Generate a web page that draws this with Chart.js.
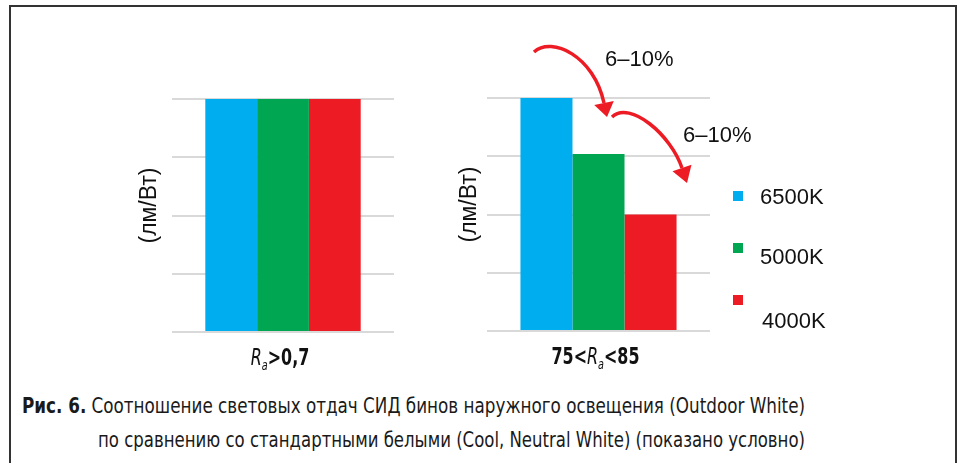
<!DOCTYPE html>
<html>
<head>
<meta charset="utf-8">
<script src="https://cdn.jsdelivr.net/npm/chart.js@4.4.1/dist/chart.umd.min.js"></script>
<style>
  html, body { margin: 0; padding: 0; background: #fff; width: 961px; height: 463px; overflow: hidden; }
  #frame { position: absolute; left: 9px; top: 5px; width: 944px; height: 480px; border: 2px solid #333; border-bottom: none; }
  canvas { position: absolute; }
  #c1 { left: 120px; top: 30px; }
  #c2 { left: 440px; top: 30px; }
  .cap { position: absolute; white-space: nowrap; line-height: 1; color: #1a1a1a; transform-origin: 0 0;
         font-family: 'DejaVu Sans Condensed', 'Liberation Sans', sans-serif; font-size: 21px; }
  .cap b { font-weight: bold; }
</style>
</head>
<body>
<div id="frame"></div>
<canvas id="c1" width="290" height="350"></canvas>
<canvas id="c2" width="420" height="350"></canvas>
<div class="cap" id="cap1" style="left:22px;top:396px"></div>
<div class="cap" id="cap2" style="left:98px;top:430px"></div>

<script>
// Series (colour temperatures) shown in both panels
const seriesNames = ['6500K', '5000K', '4000K'];
const seriesColors = ['#00AEEF', '#00A651', '#ED1C24'];

// Panel categories; "R_a" is rendered as italic R with subscript a
const panelCategories = ['R_a>0,7', '75<R_a<85'];

// Relative luminous efficacy per series, one array per panel
const panel1Values = [100, 100, 100];
const panel2Values = [100, 76, 50];

// Value axis: gridlines only, no tick labels
const yTickValues = [0, 25, 50, 75, 100];
const axisTitle = '(лм/Вт)';

// Step-down annotations between neighbouring bins
const stepLabels = ['6–10%', '6–10%'];

// Caption
const captionLead = 'Рис. 6.';
const captionLines = [
  'Соотношение световых отдач СИД бинов наружного освещения (Outdoor White)',
  'по сравнению со стандартными белыми (Cool, Neutral White) (показано условно)'
];

const LABEL_FONT = "'Liberation Sans', Arial, sans-serif";
const NARROW_FONT = "'DejaVu Sans Condensed', 'Liberation Sans', sans-serif";

function drawCategoryLabel(ctx, text, cx, cy) {
  const segs = [];
  const parts = text.split('R_a');
  parts.forEach((p, i) => {
    if (p) segs.push({ t: p, font: 'bold 23px ' + NARROW_FONT, dy: 0 });
    if (i < parts.length - 1) {
      segs.push({ t: 'R', font: 'italic 23px ' + NARROW_FONT, dy: 0 });
      segs.push({ t: 'a', font: 'italic 14px ' + NARROW_FONT, dy: 5 });
    }
  });
  let total = 0;
  segs.forEach(s => { ctx.font = s.font; s.w = ctx.measureText(s.t).width; total += s.w; });
  // condensed look: squeeze horizontally around the label centre
  ctx.translate(cx, cy + 8);
  ctx.scale(0.77, 1);
  let x = -total / 2;
  ctx.fillStyle = '#111';
  ctx.textBaseline = 'alphabetic';
  ctx.textAlign = 'left';
  segs.forEach(s => { ctx.font = s.font; ctx.fillText(s.t, x, s.dy); x += s.w; });
}

function drawArrow(ctx, p0, c1, c2, p3, tip) {
  ctx.beginPath();
  ctx.moveTo(p0[0], p0[1]);
  ctx.bezierCurveTo(c1[0], c1[1], c2[0], c2[1], p3[0], p3[1]);
  ctx.stroke();
  const dx = tip[0] - p3[0], dy = tip[1] - p3[1];
  const len = Math.hypot(dx, dy), ux = dx / len, uy = dy / len, hw = 10;
  ctx.beginPath();
  ctx.moveTo(tip[0], tip[1]);
  ctx.lineTo(p3[0] - uy * hw, p3[1] + ux * hw);
  ctx.lineTo(p3[0] + uy * hw, p3[1] - ux * hw);
  ctx.closePath();
  ctx.fill();
}

// Axis title and mixed-style category label
function panelDecor(titleOffset) {
  return {
    id: 'panelDecor',
    afterDraw(chart) {
      const ctx = chart.ctx, ca = chart.chartArea;
      ctx.save();
      ctx.fillStyle = '#111';
      ctx.font = '23px ' + LABEL_FONT;
      ctx.textAlign = 'center';
      ctx.textBaseline = 'middle';
      ctx.translate(ca.left - titleOffset, (ca.top + ca.bottom) / 2 - 10);
      ctx.rotate(-Math.PI / 2);
      ctx.fillText(axisTitle, 0, 0);
      ctx.restore();

      ctx.save();
      const xs = chart.scales.x;
      drawCategoryLabel(ctx, chart.data.labels[0], xs.getPixelForValue(0) - 3, ca.bottom + 25);
      ctx.restore();
    }
  };
}

// Step arrows and the legend to the right of the second panel
const stepDecor = {
  id: 'stepDecor',
  afterDraw(chart) {
    const ctx = chart.ctx, ca = chart.chartArea;
    const L = ca.left, T = ca.top;
    ctx.save();
    ctx.strokeStyle = '#ED1C24';
    ctx.fillStyle = '#ED1C24';
    ctx.lineWidth = 3.5;
    drawArrow(ctx, [L + 47, T - 46], [L + 65, T - 62], [L + 107, T - 42], [L + 117, T + 5], [L + 120, T + 19]);
    drawArrow(ctx, [L + 125, T + 19], [L + 143, T + 2], [L + 184, T + 37], [L + 195, T + 70], [L + 200, T + 85]);

    ctx.fillStyle = '#111';
    ctx.font = '22px ' + LABEL_FONT;
    ctx.textAlign = 'left';
    ctx.textBaseline = 'middle';
    ctx.fillText(stepLabels[0], L + 118, T - 38);
    ctx.fillText(stepLabels[1], L + 196, T + 38);

    const textDrop = [0, 8, 20];
    const textShift = [0, 0, 2];
    chart.data.datasets.forEach((ds, i) => {
      const bx = ca.right + 23, by = T + 93 + i * 52;
      ctx.fillStyle = ds.backgroundColor;
      ctx.fillRect(bx, by, 10, 10);
      ctx.fillStyle = '#111';
      ctx.fillText(ds.label, ca.right + 50 + textShift[i], by + 7 + textDrop[i]);
    });
    ctx.restore();
  }
};

function makePanel(canvasId, category, values, yWidth, xHeight, padding, plugins) {
  return new Chart(document.getElementById(canvasId), {
    type: 'bar',
    data: {
      labels: [category],
      datasets: seriesNames.map((name, i) => ({
        label: name,
        data: [values[i]],
        backgroundColor: seriesColors[i],
        borderWidth: 0,
        categoryPercentage: 0.7,
        barPercentage: 1.0
      }))
    },
    options: {
      responsive: false,
      animation: false,
      devicePixelRatio: 1,
      layout: { padding },
      plugins: { legend: { display: false }, tooltip: { enabled: false } },
      scales: {
        x: {
          grid: { display: false },
          border: { display: false },
          ticks: { display: false },
          afterFit(scale) { scale.height = xHeight; }
        },
        y: {
          min: 0, max: 100,
          afterBuildTicks(scale) { scale.ticks = yTickValues.map(v => ({ value: v })); },
          grid: { color: '#d9d9d9', lineWidth: 2, drawTicks: false },
          border: { display: false },
          ticks: { display: false },
          afterFit(scale) { scale.width = yWidth; }
        }
      }
    },
    plugins
  });
}

makePanel('c1', panelCategories[0], panel1Values, 52, 48, { top: 69, right: 16, left: 0, bottom: 0 }, [panelDecor(22)]);
makePanel('c2', panelCategories[1], panel2Values, 47, 49, { top: 68, right: 150, left: 0, bottom: 0 }, [panelDecor(17), stepDecor]);

// Caption lines, squeezed horizontally to a condensed face
const cap1 = document.getElementById('cap1');
const cap2 = document.getElementById('cap2');
cap1.innerHTML = '<b>' + captionLead + '</b> ' + captionLines[0];
cap2.textContent = captionLines[1];
[[cap1, 783], [cap2, 707]].forEach(([el, w]) => {
  const actual = el.getBoundingClientRect().width;
  el.style.transform = 'scaleX(' + (w / actual).toFixed(4) + ')';
});
</script>
</body>
</html>
